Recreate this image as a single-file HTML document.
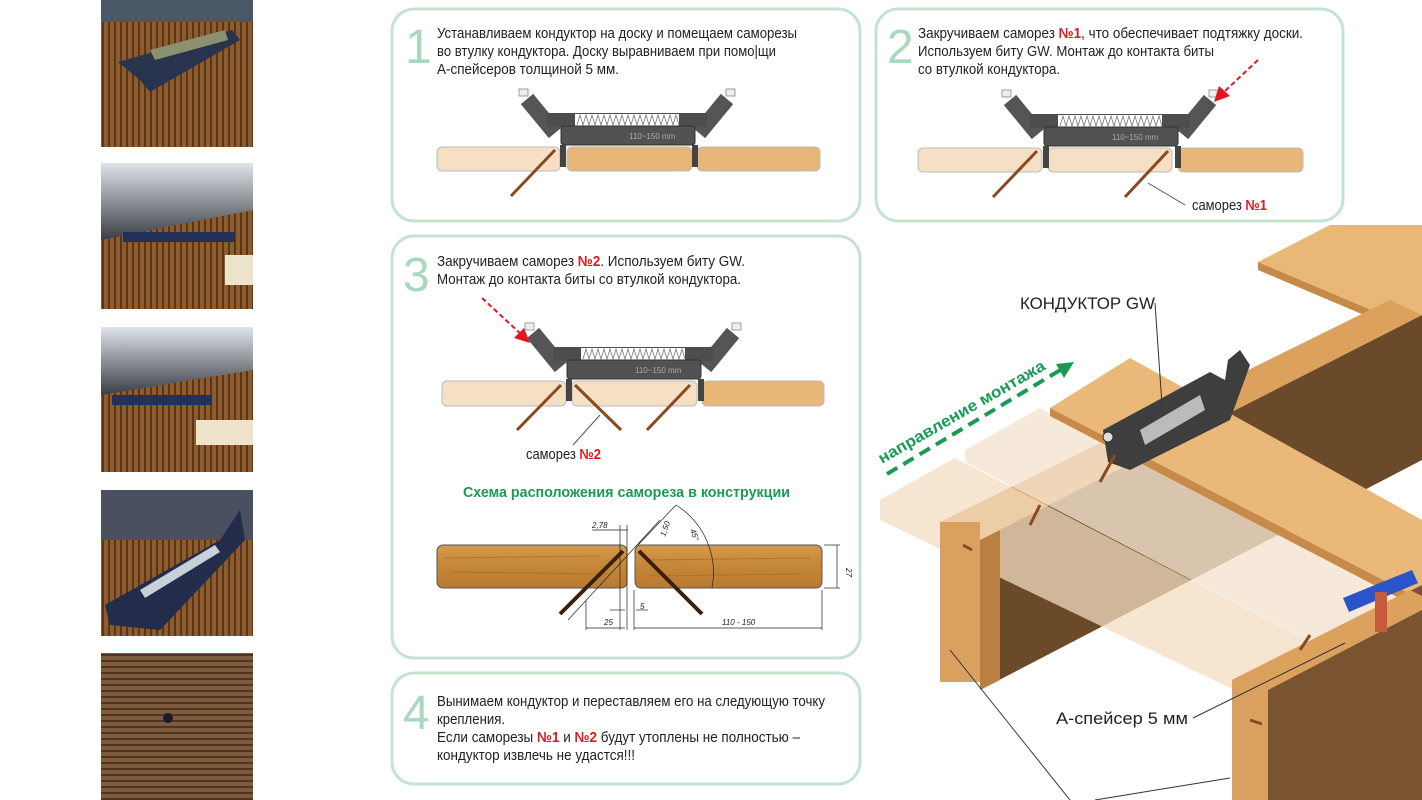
<!DOCTYPE html>
<html><head><meta charset="utf-8"><style>
html,body{margin:0;padding:0;background:#fff;}
svg{display:block}
.t{font-family:"Liberation Sans",sans-serif;font-size:14.5px;fill:#222;}
.r{fill:#e3161e;font-weight:bold;}
.n{font-family:"Liberation Sans",sans-serif;font-size:48px;fill:#a9d8bd;}
.d{font-family:"Liberation Sans",sans-serif;font-size:8px;font-style:italic;fill:#222;}
</style></head><body>
<svg width="1422" height="800" viewBox="0 0 1422 800" xmlns="http://www.w3.org/2000/svg">
<defs>
<linearGradient id="sky" x1="0" y1="0" x2="0" y2="1"><stop offset="0" stop-color="#dfe4ea"/><stop offset="1" stop-color="#3a3e44"/></linearGradient>
<pattern id="str" width="6" height="6" patternUnits="userSpaceOnUse"><rect width="6" height="6" fill="#8c5b2e"/><rect width="2" height="6" fill="#5a3519"/></pattern>
<pattern id="hstr" width="6" height="6" patternUnits="userSpaceOnUse"><rect width="6" height="6" fill="#7d5a3c"/><rect width="6" height="2" fill="#4e3520"/></pattern>
<linearGradient id="oak" x1="0" y1="0" x2="0" y2="1"><stop offset="0" stop-color="#d59a4a"/><stop offset="0.5" stop-color="#c48638"/><stop offset="1" stop-color="#b97a2e"/></linearGradient>
<g id="jig">
  <line x1="-100" y1="-48" x2="-72" y2="-14" stroke="#555" stroke-width="16"/>
  <line x1="100" y1="-48" x2="72" y2="-14" stroke="#555" stroke-width="16"/>
  <rect x="-80" y="-34" width="160" height="14" fill="#4d4d4d"/>
  <rect x="-52" y="-33" width="104" height="12" fill="#fff"/>
  <path d="M-50 -22 l3 -10 l3 10 l3 -10 l3 10 l3 -10 l3 10 l3 -10 l3 10 l3 -10 l3 10 l3 -10 l3 10 l3 -10 l3 10 l3 -10 l3 10 l3 -10 l3 10 l3 -10 l3 10 l3 -10 l3 10 l3 -10 l3 10 l3 -10 l3 10 l3 -10 l3 10 l3 -10 l3 10 l3 -10 l3 10 l3 -10 l3 10" fill="none" stroke="#777" stroke-width="0.8"/>
  <rect x="-66" y="-21" width="134" height="19" rx="3" fill="#525252" stroke="#333" stroke-width="1"/>
  <line x1="-64" y1="-2" x2="-64" y2="20" stroke="#444" stroke-width="6"/>
  <line x1="68" y1="-2" x2="68" y2="20" stroke="#444" stroke-width="6"/>
  <text x="2" y="-8" font-family="Liberation Sans" font-size="8" fill="#aaa">110~150 mm</text>
  <rect x="-108" y="-58" width="9" height="7" fill="#eee" stroke="#888" stroke-width="0.8"/>
  <rect x="99" y="-58" width="9" height="7" fill="#eee" stroke="#888" stroke-width="0.8"/>
</g>
</defs>
<rect width="1422" height="800" fill="#fff"/>

<!-- left photos -->
<rect x="101" y="0" width="152" height="147" fill="url(#str)"/>
<rect x="101" y="0" width="152" height="22" fill="#4a5866"/>
<polygon points="118,62 232,30 240,40 150,92 140,80" fill="#28344e"/>
<polygon points="150,50 225,30 228,40 155,60" fill="#8a9070"/>
<rect x="101" y="163" width="152" height="146" fill="url(#str)"/>
<polygon points="101,163 253,163 253,210 101,240" fill="url(#sky)"/>
<rect x="123" y="232" width="112" height="10" fill="#23305a"/>
<rect x="225" y="255" width="28" height="30" fill="#eee4cc"/>
<rect x="101" y="327" width="152" height="145" fill="url(#str)"/>
<polygon points="101,327 253,327 253,370 101,395" fill="url(#sky)"/>
<rect x="112" y="395" width="100" height="10" fill="#23305a"/>
<rect x="196" y="420" width="57" height="25" fill="#eee4cc"/>
<rect x="101" y="490" width="152" height="146" fill="url(#str)"/>
<rect x="101" y="490" width="152" height="50" fill="#4a5060"/>
<polygon points="105,605 220,540 240,510 245,540 160,630 110,625" fill="#232c4a"/>
<polygon points="140,590 215,545 220,552 145,598" fill="#c8d0d8"/>
<rect x="101" y="653" width="152" height="147" fill="url(#hstr)"/>
<circle cx="168" cy="718" r="5" fill="#1a1a2a"/>

<!-- box borders -->
<g fill="#fff" stroke="#c4e4d1" stroke-width="3">
<rect x="392" y="9" width="468" height="212" rx="22"/>
<rect x="876" y="9" width="467" height="212" rx="22"/>
<rect x="392" y="236" width="468" height="422" rx="22"/>
<rect x="392" y="673" width="468" height="111" rx="22"/>
</g>

<!-- box1 -->
<text class="n" x="405" y="63">1</text>
<text class="t" x="437" y="38" textLength="360" lengthAdjust="spacingAndGlyphs">Устанавливаем кондуктор на доску и помещаем саморезы</text>
<text class="t" x="437" y="56" textLength="339" lengthAdjust="spacingAndGlyphs">во втулку кондуктора. Доску выравниваем при помо|щи</text>
<text class="t" x="437" y="74" textLength="182" lengthAdjust="spacingAndGlyphs">А-спейсеров толщиной 5 мм.</text>
<rect x="437" y="147" width="123" height="24" rx="5" fill="#f5e0c6" stroke="#bbb"/>
<rect x="567" y="147" width="125" height="24" rx="5" fill="#e8b676" stroke="#bbb"/>
<rect x="697" y="147" width="123" height="24" rx="5" fill="#e8b676" stroke="#bbb"/>
<use href="#jig" x="627" y="147"/>
<line x1="555" y1="150" x2="511" y2="196" stroke="#8a4a20" stroke-width="3"/>

<!-- box2 -->
<text class="n" x="887" y="63">2</text>
<text class="t" x="918" y="38" textLength="385" lengthAdjust="spacingAndGlyphs">Закручиваем саморез <tspan class="r">№1</tspan>, что обеспечивает подтяжку доски.</text>
<text class="t" x="918" y="56" textLength="296" lengthAdjust="spacingAndGlyphs">Используем биту GW. Монтаж до контакта биты</text>
<text class="t" x="918" y="74" textLength="142" lengthAdjust="spacingAndGlyphs">со втулкой кондуктора.</text>
<rect x="918" y="148" width="124" height="24" rx="5" fill="#f5e0c6" stroke="#bbb"/>
<rect x="1048" y="148" width="124" height="24" rx="5" fill="#f5e0c6" stroke="#bbb"/>
<rect x="1178" y="148" width="125" height="24" rx="5" fill="#e8b676" stroke="#bbb"/>
<use href="#jig" x="1110" y="148"/>
<line x1="1037" y1="151" x2="993" y2="197" stroke="#8a4a20" stroke-width="3"/>
<line x1="1168" y1="151" x2="1125" y2="197" stroke="#8a4a20" stroke-width="3"/>
<line x1="1148" y1="183" x2="1185" y2="205" stroke="#555"/>
<text class="t" x="1192" y="210" textLength="75" lengthAdjust="spacingAndGlyphs">саморез <tspan class="r">№1</tspan></text>
<line x1="1258" y1="60" x2="1224" y2="92" stroke="#e3161e" stroke-width="2" stroke-dasharray="5,3"/>
<polygon points="1214,102 1219,86 1230,96" fill="#e3161e"/>

<!-- box3 -->
<text class="n" x="403" y="291">3</text>
<text class="t" x="437" y="266" textLength="308" lengthAdjust="spacingAndGlyphs">Закручиваем саморез <tspan class="r">№2</tspan>. Используем биту GW.</text>
<text class="t" x="437" y="284" textLength="304" lengthAdjust="spacingAndGlyphs">Монтаж до контакта биты со втулкой кондуктора.</text>
<rect x="442" y="381" width="124" height="25" rx="5" fill="#f5e0c6" stroke="#bbb"/>
<rect x="572" y="381" width="125" height="25" rx="5" fill="#f5e0c6" stroke="#bbb"/>
<rect x="702" y="381" width="122" height="25" rx="5" fill="#e8b676" stroke="#bbb"/>
<use href="#jig" x="633" y="381"/>
<line x1="561" y1="385" x2="517" y2="430" stroke="#8a4a20" stroke-width="3"/>
<line x1="575" y1="385" x2="621" y2="430" stroke="#8a4a20" stroke-width="3"/>
<line x1="690" y1="385" x2="647" y2="430" stroke="#8a4a20" stroke-width="3"/>
<line x1="600" y1="415" x2="573" y2="445" stroke="#555"/>
<text class="t" x="526" y="459" textLength="75" lengthAdjust="spacingAndGlyphs">саморез <tspan class="r">№2</tspan></text>
<line x1="482" y1="298" x2="522" y2="335" stroke="#e3161e" stroke-width="2" stroke-dasharray="5,3"/>
<polygon points="530,343 514,338 524,328" fill="#e3161e"/>

<text x="463" y="497" textLength="327" lengthAdjust="spacingAndGlyphs" font-family="Liberation Sans,sans-serif" font-size="15" font-weight="bold" fill="#1a9a55">Схема расположения самореза в конструкции</text>
<rect x="437" y="545" width="190" height="43" rx="6" fill="url(#oak)" stroke="#555"/>
<rect x="635" y="545" width="187" height="43" rx="6" fill="url(#oak)" stroke="#555"/>
<g stroke="#a86a25" stroke-width="1" opacity="0.7"><line x1="445" y1="558" x2="600" y2="556"/><line x1="450" y1="572" x2="610" y2="574"/><line x1="645" y1="560" x2="810" y2="558"/><line x1="650" y1="576" x2="800" y2="574"/></g>
<line x1="623" y1="551" x2="560" y2="614" stroke="#3a2010" stroke-width="4"/>
<line x1="639" y1="551" x2="702" y2="614" stroke="#3a2010" stroke-width="4"/>
<g stroke="#222" stroke-width="0.7" fill="none">
<line x1="660" y1="520" x2="568" y2="620"/>
<line x1="592" y1="530" x2="628" y2="530"/>
<line x1="620" y1="525" x2="620" y2="630"/><line x1="627" y1="525" x2="627" y2="630"/>
<line x1="586" y1="600" x2="586" y2="630"/><line x1="586" y1="628" x2="625" y2="628"/>
<line x1="634" y1="590" x2="634" y2="630"/><line x1="634" y1="628" x2="822" y2="628"/>
<line x1="822" y1="590" x2="822" y2="630"/>
<line x1="824" y1="545" x2="840" y2="545"/><line x1="824" y1="588" x2="840" y2="588"/><line x1="837" y1="545" x2="837" y2="588"/>
<path d="M676 505 A80 80 0 0 1 712 588"/>
<line x1="676" y1="505" x2="638" y2="545"/>
<line x1="610" y1="610" x2="625" y2="610"/><line x1="636" y1="610" x2="648" y2="610"/>
</g>
<text class="d" x="592" y="528">2,78</text>
<text class="d" x="665" y="537" transform="rotate(-70 665 537)">1,50</text>
<text class="d" x="690" y="530" transform="rotate(70 690 530)">45°</text>
<text class="d" x="604" y="625">25</text>
<text class="d" x="640" y="609">5</text>
<text class="d" x="722" y="625">110 - 150</text>
<text class="d" x="846" y="568" transform="rotate(90 846 568)">27</text>

<!-- box4 -->
<text class="n" x="403" y="729">4</text>
<text class="t" x="437" y="706" textLength="388" lengthAdjust="spacingAndGlyphs">Вынимаем кондуктор и переставляем его на следующую точку</text>
<text class="t" x="437" y="724" textLength="68" lengthAdjust="spacingAndGlyphs">крепления.</text>
<text class="t" x="437" y="742" textLength="363" lengthAdjust="spacingAndGlyphs">Если саморезы <tspan class="r">№1</tspan> и <tspan class="r">№2</tspan> будут утоплены не полностью –</text>
<text class="t" x="437" y="760" textLength="198" lengthAdjust="spacingAndGlyphs">кондуктор извлечь не удастся!!!</text>

<!-- right isometric -->
<polygon points="1258,262 1330,225 1422,225 1422,330 1390,318" fill="#e9b877"/>
<polygon points="1258,262 1390,318 1390,326 1258,270" fill="#c58a48"/>
<!-- joist 1 back side -->
<polygon points="980,540 1422,315 1422,460 980,690" fill="#6b4a2a"/>
<polygon points="940,522 1390,300 1422,315 980,540" fill="#dba15d"/>
<!-- ghost boards -->
<polygon points="880,500 955,458 1422,700 1422,780 880,520" fill="#f3dcc0" opacity="0.75"/>
<polygon points="965,450 1040,408 1422,610 1422,700 965,462" fill="#f5e4cf" opacity="0.8"/>
<!-- main board -->
<polygon points="1050,408 1130,358 1422,520 1422,600" fill="#eab878"/>
<polygon points="1050,408 1422,600 1422,610 1050,416" fill="#c88a48"/>
<!-- joist 1 front end -->
<rect x="940" y="522" width="40" height="160" fill="#d9a060"/>
<polygon points="980,540 1000,530 1000,680 980,690" fill="#b98041"/>
<!-- joist 2 -->
<polygon points="1232,680 1422,585 1422,800 1232,800" fill="#7a5330"/>
<polygon points="1232,680 1410,590 1422,596 1422,610 1268,690" fill="#dba15d"/>
<rect x="1232" y="680" width="36" height="120" fill="#d9a060"/>
<!-- jig on board -->
<polygon points="1103,430 1210,372 1225,380 1228,360 1240,350 1250,365 1230,420 1130,470 1108,462" fill="#3e3e3e"/>
<polygon points="1140,430 1200,395 1205,410 1145,445" fill="#bbb"/>
<circle cx="1108" cy="437" r="5" fill="#ddd" stroke="#333"/>
<!-- spacer -->
<polygon points="1343,598 1412,570 1418,583 1349,612" fill="#2a54c8"/>
<rect x="1375" y="592" width="12" height="40" fill="#c85a3c"/>
<!-- screws -->
<g stroke="#8a4a20" stroke-width="3"><line x1="1040" y1="505" x2="1030" y2="525"/><line x1="963" y1="545" x2="972" y2="550"/><line x1="1115" y1="455" x2="1100" y2="482"/><line x1="1310" y1="635" x2="1300" y2="650"/><line x1="1250" y1="720" x2="1262" y2="724"/></g>
<!-- labels -->
<text x="1020" y="309" textLength="135" lengthAdjust="spacingAndGlyphs" font-family="Liberation Sans,sans-serif" font-size="17" fill="#222">КОНДУКТОР GW</text>
<line x1="1155" y1="303" x2="1162" y2="405" stroke="#333"/>
<text x="882" y="464" textLength="190" lengthAdjust="spacingAndGlyphs" font-family="Liberation Sans,sans-serif" font-size="16" font-weight="bold" fill="#1a9a55" transform="rotate(-30 882 464)">направление монтажа</text>
<line x1="887" y1="474" x2="1062" y2="369" stroke="#1a9a55" stroke-width="4" stroke-dasharray="12,7"/>
<polygon points="1074,362 1056,364 1064,378" fill="#1a9a55"/>
<text x="1056" y="724" textLength="132" lengthAdjust="spacingAndGlyphs" font-family="Liberation Sans,sans-serif" font-size="17" fill="#222">А-спейсер 5 мм</text>
<line x1="1193" y1="718" x2="1345" y2="643" stroke="#333"/>
<line x1="950" y1="650" x2="1070" y2="800" stroke="#333"/>
<line x1="1095" y1="800" x2="1230" y2="778" stroke="#333"/>
</svg>
</body></html>
